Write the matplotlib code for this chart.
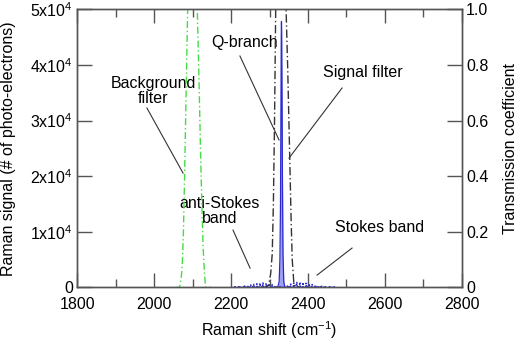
import matplotlib
matplotlib.use("Agg")
import matplotlib.pyplot as plt
import numpy as np

plt.rcParams['font.family'] = ['Liberation Sans', 'DejaVu Sans']
plt.rcParams['mathtext.fontset'] = 'custom'
plt.rcParams['mathtext.rm'] = 'Liberation Sans'
plt.rcParams['mathtext.it'] = 'Liberation Sans'
plt.rcParams['mathtext.default'] = 'regular'

# Background filter transmission (right axis)
bg_x = [2055, 2062, 2066, 2070, 2073, 2076, 2079, 2083, 2087, 2092, 2100, 2108, 2112, 2116, 2120, 2123, 2127, 2131, 2134, 2140, 2150]
bg_t = [0.0, 0.0, 0.0, 0.03, 0.08, 0.2, 0.4, 0.7, 1.0, 1.15, 1.2, 1.15, 1.0, 0.78, 0.52, 0.35, 0.15, 0.04, 0.0, 0.0, 0.0]

# Signal filter transmission (right axis)
sf_x = [2280, 2292, 2298, 2303, 2307, 2310, 2313, 2316, 2322, 2330, 2338, 2343, 2347, 2352, 2356, 2359, 2363, 2368, 2380]
sf_t = [0.0, 0.0, 0.01, 0.05, 0.12, 0.3, 0.6, 1.0, 1.12, 1.15, 1.12, 1.0, 0.8, 0.5, 0.25, 0.1, 0.02, 0.0, 0.0]

# Q-branch (left axis, photo-electrons)
q_x = [2318, 2322, 2325, 2327, 2328.5, 2329.5, 2330.5, 2331, 2331.5, 2332.5, 2333.5, 2335, 2337, 2340]
q_y = [0, 200, 1000, 5000, 15000, 30000, 45000, 47800, 46000, 35000, 20000, 6000, 1000, 0]

# Rotational lines: anti-Stokes (O) and Stokes (S) bands
as_pos = [2315, 2307, 2299, 2291, 2283, 2275, 2267, 2259, 2251, 2243, 2235, 2227, 2219, 2211]
as_h = [300, 500, 650, 750, 800, 750, 650, 550, 450, 350, 250, 170, 110, 60]
st_pos = [2347, 2355, 2363, 2371, 2379, 2387, 2395, 2403, 2411, 2419, 2427, 2435, 2443, 2451, 2459, 2467]
st_h = [400, 600, 800, 900, 900, 850, 750, 650, 500, 400, 300, 200, 140, 90, 50, 30]

x_ticks = [1800, 2000, 2200, 2400, 2600, 2800]
y_ticks = [0, 10000, 20000, 30000, 40000, 50000]
y_labels = ['0', '1x10$^{4}$', '2x10$^{4}$', '3x10$^{4}$', '4x10$^{4}$', '5x10$^{4}$']
t_ticks = [0, 0.2, 0.4, 0.6, 0.8, 1.0]
t_labels = ['0', '0.2', '0.4', '0.6', '0.8', '1.0']

fig = plt.figure(figsize=(5.2, 3.45), dpi=100)
ax = fig.add_axes([0.1487, 0.167, 0.7393, 0.806])
ax2 = ax.twinx()

spine_c = '#555555'
for a in (ax, ax2):
    for s in a.spines.values():
        s.set_color(spine_c)
        s.set_linewidth(1.0)

# stick spectrum
pos = as_pos[::-1] + st_pos
hts = as_h[::-1] + st_h
sx, sy = [], []
for p, h in zip(pos, hts):
    sx += [p - 1.5, p, p + 1.5]
    sy += [0, h, 0]
ax.plot(sx, sy, color='#2a2ad0', lw=1.1, ls=(0, (1, 1)))
ax.plot([min(pos) - 4, max(pos) + 4], [120, 120], color='#2a2ad0', lw=1.3, ls=(0, (1, 1.5)))

ax.fill_between(q_x, 0, q_y, color='#a0a0f2', lw=0)
ax.plot(q_x, q_y, color='#2a2ad0', lw=0.9)

ax2.plot(bg_x, bg_t, color='#44dd44', lw=1.0, ls=(0, (5, 2, 1, 2)))
ax2.plot(sf_x, sf_t, color='#333333', lw=1.0, ls=(0, (6, 2, 1, 2)))

ax.set_xlim(1800, 2800)
ax.set_ylim(0, 50000)
ax2.set_ylim(0, 1.0)

ax.set_xticks(x_ticks)
ax.set_xticklabels([str(v) for v in x_ticks], fontsize=11.5)
ax.set_xticks(np.arange(1900, 2800, 200), minor=True)
ax.set_yticks(y_ticks)
ax.set_yticklabels(y_labels, fontsize=11.5)
ax2.set_yticks(t_ticks)
ax2.set_yticklabels(t_labels, fontsize=11.5)

ax.tick_params(axis='x', which='major', direction='in', length=10, width=1, color=spine_c, top=True, pad=7)
ax.tick_params(axis='x', which='minor', direction='in', length=6, width=1, color=spine_c, top=True)
ax.tick_params(axis='y', which='major', direction='in', length=11, width=1, color=spine_c, pad=3)
ax2.tick_params(axis='y', which='major', direction='in', length=11, width=1, color=spine_c, pad=3)

ax.set_xlabel('Raman shift (cm$^{-1}$)', fontsize=11.5)
ax.xaxis.set_label_coords(0.5, -0.153)
ax.xaxis.label.set_va('center')
ax.set_ylabel('Raman signal (# of photo-electrons)', fontsize=11.5)
ax.yaxis.set_label_coords(-0.18, 0.5)
ax.yaxis.label.set_va('center')
ax2.set_ylabel('Transmission coefficient', fontsize=11.5)
ax2.yaxis.set_label_coords(1.126, 0.5)
ax2.yaxis.label.set_va('center')

lc = '#333333'
def note(text, tx, ty, x0, y0, x1, y1):
    ax.text(tx, ty, text, ha='center', va='center', fontsize=11.5, linespacing=1.05)
    ax.plot([x0, x1], [y0, y1], color=lc, lw=0.8)

note('Background\nfilter', 1997, 35300, 1981, 32250, 2075, 20550)
note('Q-branch', 2236, 44100, 2223, 41600, 2324.7, 26500)
note('Signal filter', 2543, 38550, 2488.6, 35850, 2350.7, 23250)
note('anti-Stokes\nband', 2171, 13720, 2205, 10300, 2249.3, 3470)
note('Stokes band', 2587, 10850, 2514.6, 7070, 2423.6, 2210)

fig.savefig('out.png', dpi=100)
